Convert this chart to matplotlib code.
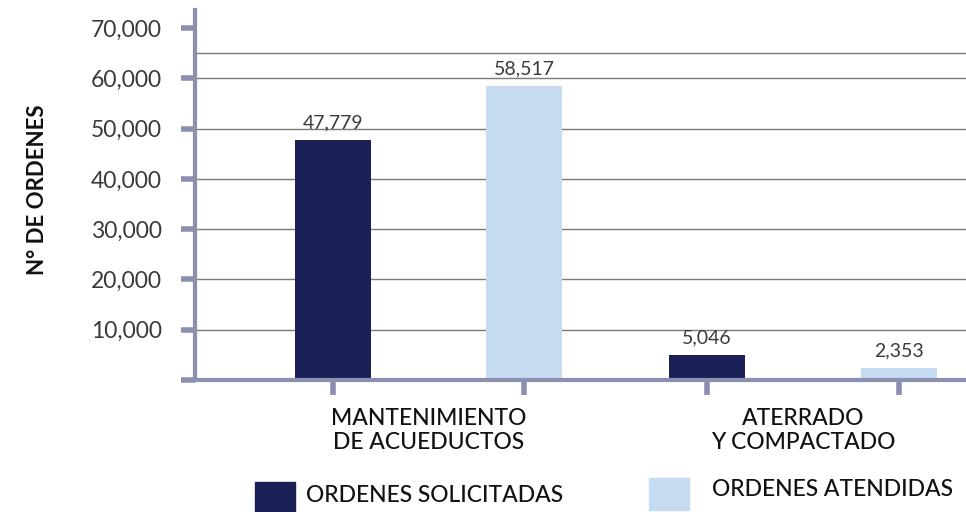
import numpy as np
import matplotlib.pyplot as plt
from matplotlib.patches import Rectangle

# Data
categories = ['MANTENIMIENTO\nDE ACUEDUCTOS', 'ATERRADO\nY COMPACTADO']
series_names = ['ORDENES SOLICITADAS', 'ORDENES ATENDIDAS']
solicitadas = [47779, 5046]
atendidas = [58517, 2353]
y_ticks = [0, 10000, 20000, 30000, 40000, 50000, 60000, 70000]
grid_levels = [10000, 20000, 30000, 40000, 50000, 60000, 65000]

navy = '#1B2157'
light = '#C5DBF2'
axis_col = '#8B90AE'
text_col = '#3A3A3A'

plt.rcParams['font.family'] = ['Lato', 'DejaVu Sans']

fig = plt.figure(figsize=(9.66, 5.12), dpi=100)
ax = fig.add_axes([195 / 966, 132 / 512, 771 / 966, 370 / 512])

x = np.arange(len(categories))
w = 0.203
off = 0.256
b1 = ax.bar(x - off, solicitadas, w, color=navy, zorder=3)
b2 = ax.bar(x + off, atendidas, w, color=light, zorder=3)
for bars, vals in [(b1, solicitadas), (b2, atendidas)]:
    ax.bar_label(bars, labels=[f'{v:,}' for v in vals], padding=6,
                 fontsize=14, color=text_col)

# Grid lines
for g in grid_levels:
    ax.axhline(g, color='#7A7A7A', lw=1, zorder=1)

ax.set_ylim(0, 73600)
ax.set_xlim(-0.6235, 1.435)
ax.set_yticks(y_ticks, [f'{v:,}' if v else '' for v in y_ticks])
ax.set_xticks(np.concatenate([x - off, x + off]), [])
ax.set_xticks(x, categories, minor=True)
ax.tick_params(axis='x', which='minor', length=0, pad=20, labelsize=16.5,
               labelcolor='#111111')
ax.tick_params(axis='x', which='major', direction='out', length=11,
               width=4, color=axis_col)
ax.tick_params(axis='y', length=10, width=4, color=axis_col, pad=14,
               labelsize=16.5, labelcolor=text_col)
for lab in ax.get_xticklabels(minor=True):
    lab.set_fontweight('medium')

for s in ['top', 'right']:
    ax.spines[s].set_visible(False)
for s in ['left', 'bottom']:
    ax.spines[s].set_color(axis_col)
    ax.spines[s].set_linewidth(3)
    ax.spines[s].set_zorder(4)

fig.text(38 / 966, 1 - 190 / 512, 'N° DE ORDENES', rotation=90,
         fontweight='bold', fontsize=16, ha='center', va='center',
         color='#111111')

# Legend
leg_boxes = [(255, 482, 40, 30), (649, 478, 40, 32)]
leg_text = [(306, 495), (712, 489)]
for name, col, (bx, by, bw, bh), (tx, ty) in zip(series_names, [navy, light],
                                                  leg_boxes, leg_text):
    fig.add_artist(Rectangle((bx / 966, 1 - (by + bh) / 512), bw / 966,
                             bh / 512, transform=fig.transFigure,
                             color=col))
    fig.text(tx / 966, 1 - ty / 512, name, fontsize=16.5, ha='left',
             va='center', color='#111111', fontweight='medium')

fig.savefig('out.png', dpi=100)
